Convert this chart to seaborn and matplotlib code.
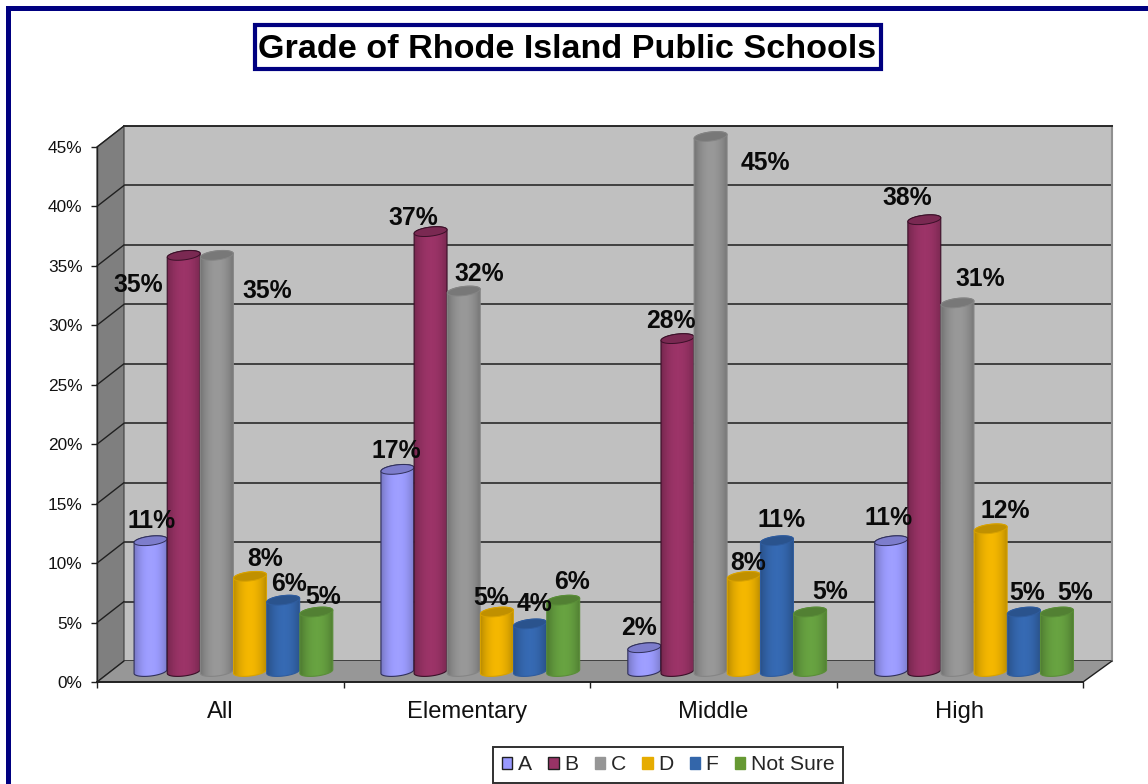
import numpy as np
import pandas as pd
import matplotlib
matplotlib.use("Agg")
import matplotlib.pyplot as plt
import seaborn as sns
from matplotlib.colors import to_rgb
from matplotlib.patches import Patch, Polygon, Rectangle

levels = ["All", "Elementary", "Middle", "High"]
grades = ["A", "B", "C", "D", "F", "Not Sure"]
grade_a = [11, 17, 2, 11]
grade_b = [35, 37, 28, 38]
grade_c = [35, 32, 45, 31]
grade_d = [8, 5, 8, 12]
grade_f = [6, 4, 11, 5]
not_sure = [5, 6, 5, 5]
percent_ticks = [0, 5, 10, 15, 20, 25, 30, 35, 40, 45]

colors = ["#9c9cff", "#993366", "#969696", "#f0b400", "#3568b0", "#66a040"]
legend_colors = ["#9999ff", "#993366", "#969696", "#e6ac00", "#3366aa", "#669933"]

# where Excel dropped each label, pixels from the top of the bar (per grade, per level)
label_offsets = {
    "A": [(1, 20), (-1, 18), (-5, 20), (-3, 23)],
    "B": [(-45, -30), (-17, 14), (-7, 18), (-17, 22)],
    "C": [(50, -36), (16, 17), (55, -26), (23, 24)],
    "D": [(15, 17), (-6, 14), (4, 13), (15, 18)],
    "F": [(6, 16), (4, 20), (5, 21), (3, 19)],
    "Not Sure": [(7, 15), (9, 18), (20, 20), (18, 19)],
}

W, H = 1148, 784
NAVY = "#000080"

sns.set_theme(style="white")
plt.rcParams["font.family"] = ["Liberation Sans", "DejaVu Sans"]

df = pd.DataFrame({"Level": levels, "A": grade_a, "B": grade_b, "C": grade_c,
                   "D": grade_d, "F": grade_f, "Not Sure": not_sure})
df = df.melt(id_vars="Level", var_name="Grade", value_name="Percent")

fig = plt.figure(figsize=(W / 100, H / 100), dpi=100, facecolor="white")


def px_axes(x0, x1, y_bottom, y_top, zorder):
    ax = fig.add_axes([x0 / W, 1 - y_bottom / H, (x1 - x0) / W, (y_bottom - y_top) / H])
    ax.set_zorder(zorder)
    ax.patch.set_alpha(0)
    return ax


def overlay(zorder):
    ax = px_axes(0, W, H, 0, zorder)
    ax.set_xlim(0, W)
    ax.set_ylim(H, 0)
    ax.axis("off")
    return ax


# back wall with the gridlines
ax_wall = px_axes(124, 1112, 661, 126, 1)
ax_wall.patch.set_alpha(1)
ax_wall.set_facecolor("#c0c0c0")
ax_wall.set_xlim(0, 1)
ax_wall.set_ylim(0, 45)
ax_wall.set_yticks(percent_ticks)
ax_wall.set_xticks([])
ax_wall.grid(axis="y", color="#2a2a2a", lw=1.2)
sns.despine(ax=ax_wall, left=True, bottom=True, right=False, top=False)
ax_wall.tick_params(left=False, right=False, labelleft=False, labelright=False)
ax_wall.spines["right"].set_color("#909090")
ax_wall.spines["right"].set_linewidth(1.5)
ax_wall.spines["top"].set_color("#2a2a2a")
ax_wall.spines["top"].set_linewidth(1.4)

# side wall and floor
ax_under = overlay(2)
ax_under.add_patch(Polygon([(97, 147), (124, 126), (124, 661), (97, 682)], fc="#7f7f7f", ec="#404040", lw=0.8))
ax_under.add_patch(Polygon([(124, 661), (1112, 661), (1083, 682), (97, 682)], fc="#979797", ec="none"))
ax_under.plot([1112, 1083], [661, 682], color="#202020", lw=1.0)
for tick in percent_ticks:
    y_front = 682 - tick * 535 / 45
    ax_under.plot([97, 124], [y_front, y_front - 21], color="#202020", lw=1.0)

# front plane carries the axes and their labels
ax_front = px_axes(97, 1083, 682, 147, 3)
ax_front.set_xlim(-0.5, 3.5)
ax_front.set_ylim(0, 45)
ax_front.set_yticks(percent_ticks)
ax_front.set_yticklabels([f"{t}%" for t in percent_ticks], fontsize=12.4, color="#111111")
ax_front.set_xticks(np.arange(-0.5, 4, 1))
ax_front.set_xticklabels([])
ax_front.set_xticks(range(len(levels)), labels=levels, minor=True, fontsize=17.1, color="#111111")
ax_front.tick_params(axis="x", which="major", bottom=True, length=4.5, width=1, color="#202020")
ax_front.tick_params(axis="x", which="minor", bottom=False, length=0, pad=13.5)
ax_front.tick_params(axis="y", left=True, length=4.5, width=1, color="#202020", pad=6)
sns.despine(ax=ax_front, top=True, right=True)
ax_front.spines["bottom"].set_color("#202020")
ax_front.spines["bottom"].set_linewidth(1.4)
ax_front.spines["left"].set_color("#202020")
ax_front.spines["left"].set_linewidth(1)

# bars sit half way between front plane and back wall
ax_bar = px_axes(110, 1097.5, 671.5, 136.5, 5)
sns.barplot(data=df, x="Level", y="Percent", hue="Grade", order=levels, hue_order=grades,
            palette=colors, width=0.806, gap=0, saturation=1, legend=False, ax=ax_bar)
ax_bar.set_xlim(-0.5, 3.5)
ax_bar.set_ylim(0, 45)
ax_bar.axis("off")

ax_cyl = overlay(4)


def ellipse_points(cx, cy, a, b, start, stop, tilt=np.radians(7)):
    t = np.radians(np.linspace(start, stop, 40))
    x = cx + a * np.cos(t) * np.cos(tilt) + b * np.sin(t) * np.sin(tilt)
    y = cy - a * np.cos(t) * np.sin(tilt) + b * np.sin(t) * np.cos(tilt)
    return np.column_stack([x, y])


def draw_cylinder(x0, x1, y_top, y_bottom, color, edge, z):
    cx, a, b = (x0 + x1) / 2, (x1 - x0) / 2, 4.5
    body = np.vstack([ellipse_points(cx, y_bottom, a, b, 180, 0),
                      ellipse_points(cx, y_top, a, b, 0, -180)])
    outline = Polygon(body, closed=True, fc="none", ec=edge, lw=0.8, zorder=z + 0.2)
    clip = Polygon(body, closed=True, transform=ax_cyl.transData)
    t = np.linspace(0, 1, 64)
    shade = 0.66 + 0.36 * np.sin(np.pi * t) ** 0.7
    strip = np.clip(np.outer(shade, to_rgb(color)), 0, 1)[np.newaxis, :, :]
    img = ax_cyl.imshow(strip, extent=(x0 - 2, x1 + 2, y_bottom + 9, y_top - 9),
                        aspect="auto", zorder=z, interpolation="bilinear")
    img.set_clip_path(clip)
    ax_cyl.add_patch(outline)
    cap = ellipse_points(cx, y_top, a, b, 0, 360)
    cap_color = np.array(to_rgb(color)) * 0.8
    ax_cyl.add_patch(Polygon(cap, closed=True, fc=cap_color, ec=edge, lw=0.7, zorder=z + 0.3))


edges = ["#30305a", "#3a1028", "#858585", "#d8a200", "#2f5c9e", "#5a8e38"]
z = 1
fig.canvas.draw()
for g, container in enumerate(ax_bar.containers):
    for i, bar in enumerate(container):
        (x0, base), (x1, top) = ax_bar.transData.transform(
            [(bar.get_x(), 0), (bar.get_x() + bar.get_width(), bar.get_height())])
        draw_cylinder(x0, x1, H - top, H - base, colors[g], edges[g], z)
        z += 1
        bar.set_facecolor("none")
        bar.set_edgecolor("none")
        bar.set_linewidth(0)
        dx, dy = label_offsets[grades[g]][i]
        ax_bar.annotate(f"{bar.get_height():.0f}%",
                        xy=(bar.get_x() + bar.get_width() / 2, bar.get_height()),
                        xytext=(dx, dy), textcoords="offset pixels", ha="center", va="center",
                        fontsize=17.8, fontweight="bold", color="#0a0a0a", annotation_clip=False)
ax_cyl.set_xlim(0, W)
ax_cyl.set_ylim(H, 0)

# navy chart frame, open at the right and bottom like the crop
ax_cyl.add_patch(Rectangle((6, 6), W, 5, fc=NAVY, ec="none", zorder=500))
ax_cyl.add_patch(Rectangle((6, 6), 5, H, fc=NAVY, ec="none", zorder=500))

# title box
ax_cyl.add_patch(Rectangle((254.5, 24.5), 626, 44, fc="white", ec=NAVY, lw=3, zorder=500))
fig.text(567.5 / W, 1 - 50 / H, "Grade of Rhode Island Public Schools", ha="center", va="center",
         fontsize=24.6, fontweight="bold", color="black", zorder=10)

handles = [Patch(facecolor=c, edgecolor="#202020" if g < 2 else c, lw=1) for g, c in enumerate(legend_colors)]
leg = fig.legend(handles, grades, ncol=6, loc="center", bbox_to_anchor=(668 / W, 1 - 765 / H),
                 fontsize=15.2, frameon=True, fancybox=False, edgecolor="#303030", framealpha=1,
                 handlelength=0.5, handleheight=0.5, handletextpad=0.25, columnspacing=0.78,
                 borderpad=0.4, borderaxespad=0)
leg.get_frame().set_linewidth(1.4)
leg.set_zorder(10)

fig.savefig("out.png", dpi=100)
